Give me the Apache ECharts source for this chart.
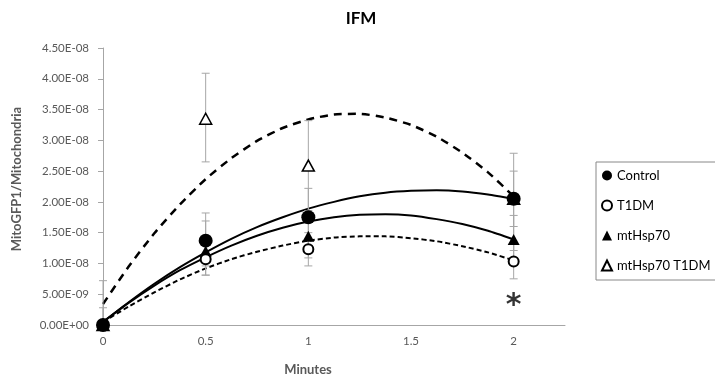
<!DOCTYPE html>
<html><head><meta charset="utf-8">
<script src="https://cdn.jsdelivr.net/npm/echarts@6/dist/echarts.min.js"></script>
<style>html,body{margin:0;padding:0;background:#fff}#c{width:715px;height:383px}</style>
</head><body><div id="c"></div>
<script>
// ---- data ----
var minutes = [0, 0.5, 1, 2];
var controlY = [0, 1.37e-8, 1.75e-8, 2.05e-8];
var controlLo = [0, 0.96e-8, 1.28e-8, 1.60e-8];
var controlHi = [0.28e-8, 1.82e-8, 2.22e-8, 2.50e-8];
var t1dmY = [0, 1.07e-8, 1.23e-8, 1.03e-8];
var t1dmLo = [0, 0.81e-8, 0.96e-8, 0.75e-8];
var t1dmHi = [0, 1.33e-8, 1.50e-8, 1.31e-8];
var hspY = [0, 1.20e-8, 1.44e-8, 1.39e-8];
var hspLo = [0, 0.81e-8, 1.09e-8, 1.00e-8];
var hspHi = [0, 1.69e-8, 1.79e-8, 1.78e-8];
var hspT1Y = [0, 3.35e-8, 2.59e-8, 2.05e-8];
var hspT1Lo = [0, 2.65e-8, 1.86e-8, 1.21e-8];
var hspT1Hi = [0.72e-8, 4.09e-8, 3.32e-8, 2.79e-8];
// trend lines
var trendX = [0, 0.125, 0.25, 0.375, 0.5, 0.625, 0.75, 0.875, 1, 1.125, 1.25, 1.375, 1.5, 1.625, 1.75, 1.875, 2];
var controlTrend = [0.05e-8, 0.37e-8, 0.67e-8, 0.94e-8, 1.18e-8, 1.40e-8, 1.59e-8, 1.75e-8, 1.89e-8, 2.00e-8, 2.09e-8, 2.15e-8, 2.18e-8, 2.19e-8, 2.17e-8, 2.12e-8, 2.05e-8];
var t1dmTrend = [0.05e-8, 0.30e-8, 0.53e-8, 0.74e-8, 0.92e-8, 1.07e-8, 1.19e-8, 1.29e-8, 1.37e-8, 1.42e-8, 1.44e-8, 1.44e-8, 1.41e-8, 1.36e-8, 1.28e-8, 1.18e-8, 1.05e-8];
var hspTrend = [0.05e-8, 0.36e-8, 0.64e-8, 0.89e-8, 1.10e-8, 1.29e-8, 1.45e-8, 1.58e-8, 1.68e-8, 1.75e-8, 1.79e-8, 1.80e-8, 1.78e-8, 1.72e-8, 1.64e-8, 1.53e-8, 1.39e-8];
var hspT1Trend = [0.34e-8, 0.95e-8, 1.49e-8, 1.96e-8, 2.37e-8, 2.71e-8, 2.99e-8, 3.20e-8, 3.34e-8, 3.42e-8, 3.43e-8, 3.37e-8, 3.25e-8, 3.06e-8, 2.80e-8, 2.48e-8, 2.09e-8];
var starPoint = [2, 0.31e-8];
var seriesNames = ['Control', 'T1DM', 'mtHsp70', 'mtHsp70 T1DM'];

function pts(xs, ys){ return xs.map(function(x,i){ return [x, ys[i]]; }); }
function errs(xs, lo, hi){ var o=[]; xs.forEach(function(x,i){ if(hi[i]>lo[i]) o.push([x, lo[i], hi[i]]); }); return o; }
function fmtE(v){
  if (Math.abs(v) < 1e-20) return '0.00E+00';
  var s = v.toExponential(2).split('e');
  var n = parseInt(s[1],10), a = Math.abs(n);
  return s[0] + 'E' + (n<0?'-':'+') + (a<10?'0'+a:a);
}
var FONT = 'Lato, "Liberation Sans", sans-serif';
var errData = [].concat(errs(minutes, controlLo, controlHi), errs(minutes, t1dmLo, t1dmHi),
                        errs(minutes, hspLo, hspHi), errs(minutes, hspT1Lo, hspT1Hi));

function trend(ys, width, dash){
  return { type:'line', data: pts(trendX, ys), smooth: 0.2, showSymbol:false, silent:true, z:2,
    lineStyle:{ color:'#000', width: width, type: dash || 'solid' } };
}

var chart = echarts.init(document.getElementById('c'), null, {renderer:'canvas'});
chart.setOption({
  animation:false,
  backgroundColor:'#fff',
  title:{ text:'IFM', left:356, top:5, textAlign:'center',
    textStyle:{ fontFamily:FONT, fontSize:17, fontWeight:'bold', color:'#000' } },
  grid:{ left:103, right:150, top:48, bottom:58, containLabel:false },
  legend:{ orient:'vertical', left:596, top:162, width:116, height:106,
    data: seriesNames, itemWidth:10, itemHeight:10, itemGap:17,
    padding:[7,10,8,5], borderColor:'#888', borderWidth:1, backgroundColor:'#fff',
    textStyle:{ fontFamily:FONT, fontSize:13, color:'#000' } , selectedMode:false },
  xAxis:{ type:'value', min:0, max:2.25, interval:0.5,
    name:'Minutes', nameLocation:'middle', nameGap:38,
    nameTextStyle:{ fontFamily:FONT, fontSize:13, fontWeight:'bold', color:'#595959', padding:[0,52,0,0] },
    axisLine:{ show:true, onZero:false, lineStyle:{ color:'#a6a6a6', width:1 } },
    axisTick:{ show:false }, splitLine:{ show:false },
    axisLabel:{ showMaxLabel:false, fontFamily:FONT, fontSize:11.5, color:'#595959', margin:10 } },
  yAxis:{ type:'value', min:0, max:4.5e-8, interval:0.5e-8,
    name:'MitoGFP1/Mitochondria', nameLocation:'middle', nameGap:80,
    nameTextStyle:{ fontFamily:FONT, fontSize:13, fontWeight:'bold', color:'#595959', padding:[0,0,0,15] },
    axisLine:{ show:true, lineStyle:{ color:'#a6a6a6', width:1 } },
    axisTick:{ show:true, length:5, lineStyle:{ color:'#a6a6a6' } }, splitLine:{ show:false },
    axisLabel:{ formatter: fmtE, fontFamily:FONT, fontSize:11.5, color:'#595959', margin:14 } },
  series:[
    trend(controlTrend, 2),
    trend(hspTrend, 2),
    trend(t1dmTrend, 2, [5,3]),
    trend(hspT1Trend, 2.5, [8,6]),
    { type:'custom', silent:true, z:3, data: errData, encode:{ x:0, y:[1,2] },
      renderItem:function(params, api){
        var x = api.value(0), p1 = api.coord([x, api.value(1)]), p2 = api.coord([x, api.value(2)]);
        var st = { stroke:'#a6a6a6', lineWidth:1 };
        return { type:'group', children:[
          { type:'line', shape:{ x1:p1[0], y1:p1[1], x2:p2[0], y2:p2[1] }, style:st },
          { type:'line', shape:{ x1:p1[0]-4, y1:p1[1], x2:p1[0]+4, y2:p1[1] }, style:st },
          { type:'line', shape:{ x1:p2[0]-4, y1:p2[1], x2:p2[0]+4, y2:p2[1] }, style:st } ] };
      } },
    { name:'mtHsp70 T1DM', type:'scatter', z:4, data: pts(minutes, hspT1Y), symbol:'triangle', symbolSize:[12,11],
      itemStyle:{ color:'#fff', borderColor:'#000', borderWidth:1.5, opacity:1 } },
    { name:'mtHsp70', type:'scatter', z:5, data: pts(minutes, hspY), symbol:'triangle', symbolSize:[12,11],
      itemStyle:{ color:'#000', opacity:1 } },
    { name:'T1DM', type:'scatter', z:6, data: pts(minutes, t1dmY), symbol:'circle', symbolSize:10,
      itemStyle:{ color:'#fff', borderColor:'#000', borderWidth:2, opacity:1 } },
    { name:'Control', type:'scatter', z:7, data: pts(minutes, controlY), symbol:'circle', symbolSize:14,
      itemStyle:{ color:'#000', opacity:1 } },
    { type:'scatter', silent:true, z:8, data:[starPoint], symbolSize:0,
      label:{ show:true, position:'inside', formatter:'*', fontFamily:'"DejaVu Sans", sans-serif', fontWeight:'bold', fontSize:30, color:'#000' } }
  ]
});
</script></body></html>
